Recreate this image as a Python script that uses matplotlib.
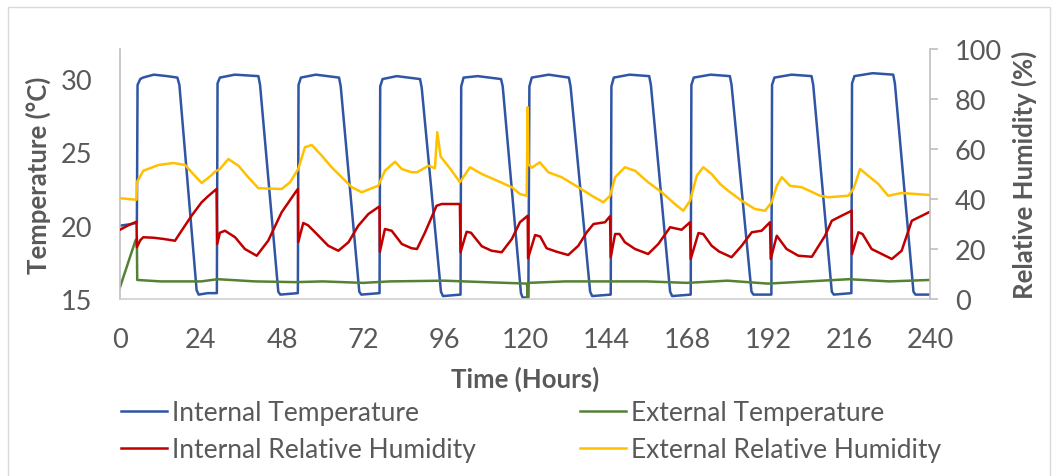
import matplotlib
matplotlib.use("Agg")
import matplotlib.pyplot as plt
from matplotlib.patches import Rectangle

# ---------------- data ----------------
hour_ticks = [0, 24, 48, 72, 96, 120, 144, 168, 192, 216, 240]
temp_ticks = [15, 20, 25, 30]
rh_ticks = [0, 20, 40, 60, 80, 100]

# Internal temperature (°C)
int_temp_t = [0, 3, 5.0, 5.2, 6.0, 6.8, 10, 14, 17.0, 17.6, 22.7, 23.3, 26, 28.7,
              28.9, 29.6, 34, 41.0, 41.5, 46.9, 47.5, 52.7,
              52.9, 53.6, 58, 64.9, 65.4, 70.9, 71.5, 76.9,
              77.1, 77.8, 82, 88.9, 89.4, 95.1, 95.7, 100.9,
              101.1, 101.8, 106, 112.9, 113.4, 118.8, 119.3, 121.0,
              121.3, 122.0, 127, 133.0, 133.5, 139.3, 139.9, 145.4,
              145.6, 146.3, 151, 156.8, 157.3, 163.0, 163.6, 169.1,
              169.3, 170.0, 175, 180.7, 181.2, 187.1, 187.7, 193.0,
              193.2, 193.9, 199, 204.9, 205.4, 210.9, 211.5, 216.7,
              216.9, 217.6, 223, 229.1, 229.6, 235.1, 235.7, 240]
int_temp_v = [20.0, 20.1, 20.2, 29.6, 30.0, 30.1, 30.3, 30.2, 30.1, 29.6, 15.6, 15.3, 15.4, 15.4,
              29.7, 30.1, 30.3, 30.2, 29.6, 15.5, 15.3, 15.4,
              29.6, 30.1, 30.3, 30.1, 29.5, 15.5, 15.3, 15.4,
              29.5, 30.0, 30.2, 30.0, 29.4, 15.5, 15.2, 15.3,
              29.5, 30.1, 30.2, 30.0, 29.5, 15.4, 15.1, 15.1,
              29.5, 30.1, 30.3, 30.1, 29.5, 15.5, 15.2, 15.3,
              29.5, 30.1, 30.3, 30.2, 29.6, 15.5, 15.2, 15.3,
              29.6, 30.1, 30.3, 30.2, 29.6, 15.5, 15.3, 15.3,
              29.6, 30.1, 30.3, 30.2, 29.6, 15.5, 15.3, 15.4,
              29.7, 30.2, 30.4, 30.3, 29.7, 15.5, 15.3, 15.3]

# External temperature (°C)
ext_temp_t = [0, 4.6, 5.0, 5.1, 12, 24, 29, 40, 52, 60, 72, 80, 96, 108,
              120.6, 120.8, 121.0, 132, 144, 156, 168, 180, 192, 204, 216, 228, 240]
ext_temp_v = [15.8, 19.0, 19.1, 16.3, 16.2, 16.2, 16.35, 16.2, 16.15, 16.2, 16.1, 16.2, 16.25, 16.15,
              16.05, 15.0, 16.1, 16.2, 16.2, 16.2, 16.1, 16.25, 16.05, 16.2, 16.35, 16.2, 16.3]

# Internal relative humidity (%)
int_rh_t = [0, 2.5, 4.9, 5.0, 6.0, 6.9, 10, 13, 16.3, 17.8, 21.2, 24.2, 26, 28.6,
            28.8, 29.6, 31.1, 34.1, 37.0, 40.5, 43.9, 47.9, 52.3, 52.7,
            52.8, 54.3, 55.7, 57.8, 61.7, 64.7, 67.7, 70.6, 73.6, 76.5, 76.9,
            77.0, 78.5, 80.5, 83.5, 86.4, 88, 90.4, 93.8, 95.3, 100.7,
            100.9, 102.7, 104, 107.2, 110.1, 113.1, 116.1, 118.5, 120.8,
            120.9, 123.0, 124.5, 126.4, 129.4, 132.8, 135.8, 138.3, 140.3, 143.7, 145.2,
            145.4, 146.7, 148, 149.6, 152.6, 156.5, 159.5, 163.0, 166.4, 168.9,
            169.1, 171.4, 172.8, 175.3, 177.5, 181.2, 184.2, 187.2, 190.1, 192.6,
            192.8, 194.6, 197.5, 201, 205.0, 208.9, 210.9, 213.8, 216.8,
            216.9, 218.8, 220, 222.7, 225.7, 228.7, 231.6, 234.6, 237.6, 240]
int_rh_v = [27.7, 29.5, 30.9, 20.7, 23.5, 24.7, 24.5, 24.0, 23.3, 26.4, 33.3, 38.7, 41.0, 44.0,
            22.0, 26.5, 27.3, 24.7, 20.0, 17.3, 23.3, 34.7, 43.3, 44.0,
            22.7, 30.4, 29.5, 26.7, 21.3, 19.3, 22.7, 29.3, 34.0, 36.7, 37.0,
            18.9, 28.0, 27.3, 22.0, 20.3, 20.0, 26.7, 37.3, 38.0, 38.0,
            18.7, 26.9, 26.5, 21.1, 19.3, 18.7, 24.0, 30.7, 33.3,
            16.3, 25.6, 25.0, 20.3, 18.9, 17.6, 21.3, 26.7, 30.0, 30.7, 33.1,
            16.7, 26.0, 26.0, 22.7, 20.0, 18.0, 22.0, 28.7, 27.7, 30.7,
            16.0, 26.4, 26.0, 21.3, 19.0, 16.7, 21.3, 26.7, 27.3, 30.7,
            16.0, 25.3, 20.0, 17.3, 16.9, 25.3, 31.3, 33.3, 35.3,
            18.0, 26.7, 26.0, 20.0, 18.0, 16.0, 19.3, 31.3, 33.3, 34.9]

# External relative humidity (%)
ext_rh_t = [0, 4.9, 5.0, 6.9, 11.4, 15.8, 19.3, 21.7, 24.2, 27.2, 28.1, 29.6, 32.1, 35.1,
            38.0, 41.0, 47.9, 50.4, 52.8, 54.8, 56.8, 59.8, 62.7, 65.7, 68.7, 71.6,
            76.5, 78.5, 81.5, 83.5, 86.4, 88, 91.4, 93.3, 94.0, 95.0, 98.3, 100.7,
            103.7, 107.2, 111.1, 116.1, 118.5, 120.5, 120.8, 121.0, 122, 124.4, 126.9,
            130.9, 135.8, 139.8, 143.2, 145.2, 146.7, 149.6, 152.6, 156.5, 160.5,
            164.4, 166.9, 168.9, 170.9, 172.8, 175.3, 177.8, 180.2, 184.2, 188.1,
            191.1, 193.1, 194.6, 196.1, 198.5, 202, 204.9, 207.4, 209.9, 215.8,
            217.3, 219.3, 221.7, 224.7, 227.6, 231.6, 235.6, 240]
ext_rh_v = [40.3, 39.7, 46.7, 51.3, 53.6, 54.4, 53.6, 50.0, 46.4, 49.6, 50.9, 52.0, 56.0, 53.3,
            48.7, 44.3, 44.0, 46.7, 52.0, 60.7, 61.6, 57.3, 52.7, 48.7, 44.7, 42.7,
            45.3, 51.3, 54.9, 52.0, 50.7, 50.7, 53.3, 52.3, 66.7, 57.0, 51.3, 46.7,
            52.7, 50.0, 47.7, 44.7, 42.0, 41.3, 76.7, 54.0, 52.5, 54.7, 50.7,
            48.7, 44.7, 41.3, 38.7, 41.3, 48.7, 52.7, 51.3, 46.7, 42.7,
            38.0, 35.3, 39.3, 49.3, 52.7, 50.0, 46.0, 43.3, 39.3, 36.0,
            35.3, 38.7, 45.3, 48.7, 45.3, 44.7, 42.9, 41.3, 40.7, 41.3,
            44.0, 52.0, 49.3, 46.0, 41.3, 42.4, 42.0, 41.6]

# ---------------- style ----------------
FONT = "Lato"
TEXT_GREY = "#595959"
AXIS_GREY = "#bfbfbf"
C_INT_T = "#2f55a4"
C_EXT_T = "#548235"
C_INT_RH = "#c00000"
C_EXT_RH = "#ffc000"
LW = 1.8
TICK_FS = 19.5
LABEL_FS = 18.5
LEGEND_FS = 19

plt.rcParams["font.family"] = [FONT, "DejaVu Sans"]

W, H = 1056, 477
fig = plt.figure(figsize=(W / 100, H / 100), dpi=100)
fig.patch.set_facecolor("white")

# thin chart-area frame
fig.patches.append(Rectangle((8 / W, -0.02), 1042 / W, 1 - 8 / H + 0.02,
                             transform=fig.transFigure, fill=False,
                             edgecolor="#d9d9d9", linewidth=1.0))

ax = fig.add_axes([120 / W, 1 - 300 / H, 810 / W, 250 / H])
ax2 = ax.twinx()

l1, = ax.plot(int_temp_t, int_temp_v, color=C_INT_T, lw=LW, label="Internal Temperature")
l2, = ax.plot(ext_temp_t, ext_temp_v, color=C_EXT_T, lw=LW, label="External Temperature")
l3, = ax2.plot(int_rh_t, int_rh_v, color=C_INT_RH, lw=LW, label="Internal Relative Humidity")
l4, = ax2.plot(ext_rh_t, ext_rh_v, color=C_EXT_RH, lw=LW, label="External Relative Humidity")

ax.set_xlim(0, 240)
ax.set_ylim(15, 32.05)
ax2.set_ylim(0, 100)

ax.set_xticks(hour_ticks)
ax.set_yticks(temp_ticks)
ax2.set_yticks(rh_ticks)

for sp in ("top", "right"):
    ax.spines[sp].set_visible(False)
for sp in ("top", "left", "bottom"):
    ax2.spines[sp].set_visible(False)
ax.spines["left"].set_color(AXIS_GREY)
ax.spines["bottom"].set_color("#d0d0d0")
ax2.spines["right"].set_color(AXIS_GREY)
for sp in (ax.spines["left"], ax.spines["bottom"], ax2.spines["right"]):
    sp.set_linewidth(1.2)

ax.tick_params(axis="x", length=0, pad=20, labelsize=TICK_FS, labelcolor=TEXT_GREY)
ax.tick_params(axis="y", length=0, pad=20, labelsize=TICK_FS, labelcolor=TEXT_GREY)
ax2.tick_params(axis="y", length=6, width=1.2, color=AXIS_GREY, pad=12,
                labelsize=TICK_FS, labelcolor=TEXT_GREY)

ax.set_xlabel("Time (Hours)", fontsize=LABEL_FS, fontweight="bold", color=TEXT_GREY, labelpad=10)
ax.set_ylabel("Temperature (°C)", fontsize=LABEL_FS, fontweight="bold", color=TEXT_GREY, labelpad=7)
ax2.set_ylabel("Relative Humidity (%)", fontsize=LABEL_FS, fontweight="bold", color=TEXT_GREY, labelpad=7)

leg_kw = dict(loc="upper left", frameon=False, fontsize=LEGEND_FS, handlelength=1.75,
              handletextpad=0.2, labelspacing=0.45, borderpad=0, borderaxespad=0,
              labelcolor=TEXT_GREY)
leg1 = fig.legend([l1, l3], [l1.get_label(), l3.get_label()],
                  bbox_to_anchor=(121 / W, 1 - 401 / H), **leg_kw)
leg2 = fig.legend([l2, l4], [l2.get_label(), l4.get_label()],
                  bbox_to_anchor=(580 / W, 1 - 401 / H), **leg_kw)

fig.savefig("out.png", dpi=100, facecolor="white")
